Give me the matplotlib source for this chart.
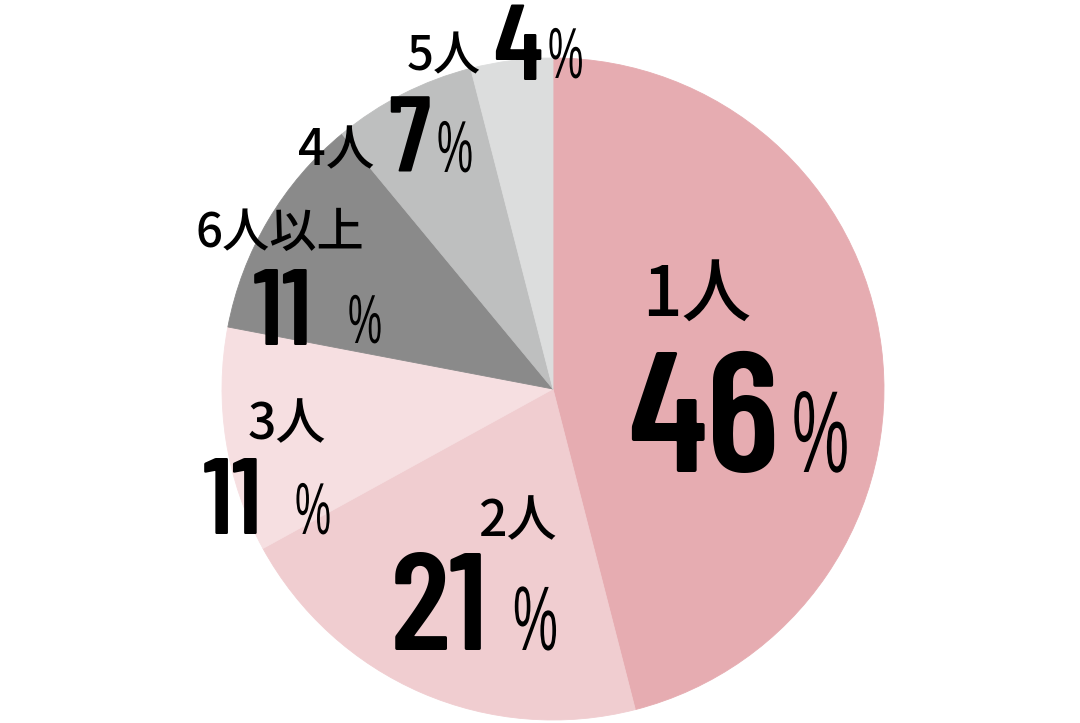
import matplotlib
matplotlib.use('Agg')
import matplotlib.pyplot as plt
from matplotlib.patheffects import AbstractPathEffect
from matplotlib.transforms import Affine2D

# data
labels = ['1人', '2人', '3人', '6人以上', '4人', '5人']
shares = [46, 21, 11, 11, 7, 4]
colors = ['#E6ACB1', '#F0CDD0', '#F6DFE1', '#8A8A8A', '#BEBFBF', '#DCDDDD']

# layout in image pixels (left, baseline)
label_pos = [(642, 317), (478, 536), (248, 439), (195, 247), (298, 165), (407, 70)]
label_size = [50, 36, 36, 34, 35, 34]
num_pos = [(628, 472), (391, 650), (203, 534), (253, 345), (388, 173), (493, 80)]
num_size = [123, 100, 78, 78, 77, 77]
pct_pos = [(792, 472), (513, 650), (295, 534), (348, 343), (437, 172), (548, 78)]
pct_size = [84, 66, 53, 50, 53, 52]

CX, CY, R = 553, 389, 331
W, H = 1080, 723

num_font = ['Barlow Condensed', 'Liberation Sans', 'DejaVu Sans']
pct_font = ['Liberation Sans', 'DejaVu Sans']
label_font = ['Noto Sans CJK JP', 'DejaVu Sans']


class Squeeze(AbstractPathEffect):
    """draw text horizontally condensed"""
    def __init__(self, sx):
        super().__init__()
        self.sx = sx

    def draw_path(self, renderer, gc, tpath, affine, rgbFace=None):
        renderer.draw_path(gc, tpath, Affine2D().scale(self.sx, 1) + affine, rgbFace)


def to_data(p):
    return (p[0] - CX) / R, (CY - p[1]) / R


fig = plt.figure(figsize=(W / 100, H / 100), dpi=100)
ax = fig.add_axes([(CX - R) / W, (H - CY - R) / H, 2 * R / W, 2 * R / H])

ax.pie(shares, colors=colors, startangle=90, counterclock=False, radius=1,
       wedgeprops=dict(linewidth=0.6))
for w in ax.patches:
    w.set_edgecolor(w.get_facecolor())
ax.set_xlim(-1, 1)
ax.set_ylim(-1, 1)
ax.axis('off')

for i in range(len(labels)):
    x, y = to_data(label_pos[i])
    ax.text(x, y, labels[i], family=label_font, fontsize=label_size[i],
            fontweight='medium', ha='left', va='baseline', color='black')
    x, y = to_data(num_pos[i])
    ax.text(x, y, str(shares[i]), family=num_font, fontweight=600,
            fontsize=num_size[i], ha='left', va='baseline', color='black')
    x, y = to_data(pct_pos[i])
    ax.text(x, y, '%', family=pct_font, fontsize=pct_size[i],
            ha='left', va='baseline', color='black',
            path_effects=[Squeeze(0.55)])

fig.savefig('out.png', dpi=100, facecolor='white')
